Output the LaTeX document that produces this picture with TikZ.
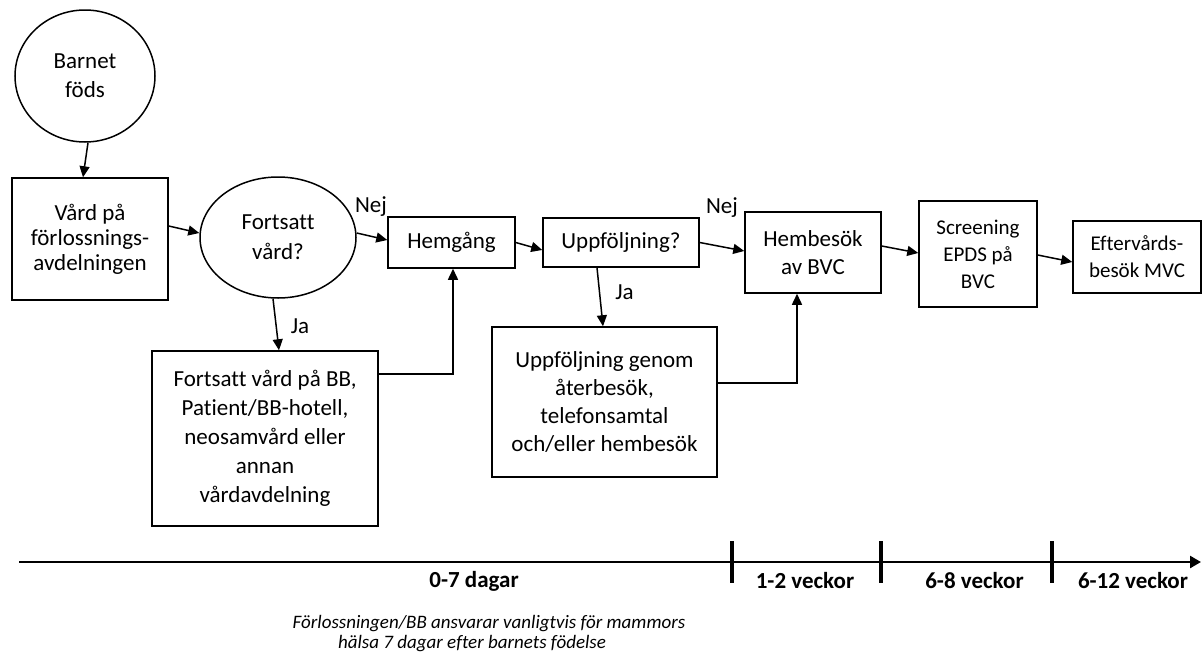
\documentclass[tikz,border=0pt]{standalone}
\usepackage{fontspec}
\setmainfont{Carlito}[Ligatures={NoCommon}]
\usetikzlibrary{shapes.geometric,arrows.meta}
\begin{document}
\begin{tikzpicture}[x=1pt,y=-1pt,
  every node/.style={font=\fontsize{23}{28}\selectfont},
  box/.style={draw,line width=1.5pt,rectangle,inner sep=0pt,align=center},
  oval/.style={draw,line width=1.5pt,ellipse,inner sep=0pt,align=center},
  arr/.style={line width=1.5pt,-{Triangle[length=11pt,width=10pt]}},
  lbl/.style={inner sep=0pt},
  tl/.style={font=\fontsize{23}{26}\selectfont\bfseries,inner sep=0pt,anchor=base},
  note/.style={font=\fontsize{19}{20}\selectfont\itshape,inner sep=0pt,anchor=base}]
\useasboundingbox (0,0) rectangle (1203,659);

\node[oval,minimum width=140pt,minimum height=132pt,font=\fontsize{23}{29}\selectfont] (born) at (85,76) {Barnet\\föds};
\node[box,minimum width=156pt,minimum height=122pt,font=\fontsize{23}{25}\selectfont] (vard) at (90,239) {Vård på\\förlossnings-\\avdelningen};
\node[oval,minimum width=156pt,minimum height=121pt,font=\fontsize{23}{30}\selectfont] (fort) at (278,237.5) {Fortsatt\\vård?};
\node[box,minimum width=127pt,minimum height=51pt] (hem) at (451.5,242.5) {Hemgång};
\node[box,minimum width=156pt,minimum height=49pt] (upp) at (621,242.5) {Uppföljning?};
\node[box,minimum width=136pt,minimum height=81pt] (bvc) at (813,252.5) {Hembesök\\av BVC};
\node[box,minimum width=118pt,minimum height=106pt,font=\fontsize{21}{27}\selectfont] (scr) at (978,254) {Screening\\EPDS på\\BVC};
\node[box,minimum width=128pt,minimum height=72pt,font=\fontsize{21}{27}\selectfont] (eft) at (1137,257) {Eftervårds-\\besök MVC};
\node[box,minimum width=226pt,minimum height=175pt,font=\fontsize{23}{29}\selectfont] (fbb) at (265,438.5) {Fortsatt vård på BB,\\Patient/BB-hotell,\\neosamvård eller\\annan\\vårdavdelning};
\node[box,minimum width=225pt,minimum height=150pt,font=\fontsize{23}{28.3}\selectfont] (ug) at (604.5,402) {Uppföljning genom\\återbesök,\\telefonsamtal\\och/eller hembesök};

\draw[arr] ([xshift=3pt]born.south) -- ([xshift=-7pt]vard.north);
\draw[arr] ([yshift=13pt]vard.east) -- ([yshift=4.5pt]fort.west);
\draw[arr] ([yshift=4.5pt]fort.east) -- ([yshift=2.5pt]hem.west);
\draw[arr] (hem.east) -- ([yshift=-7.5pt]upp.west);
\draw[arr] (upp.east) -- ([yshift=1.5pt]bvc.west);
\draw[arr] ([yshift=6.5pt]bvc.east) -- ([yshift=1pt]scr.west);
\draw[arr] ([yshift=-1pt]scr.east) -- ([yshift=-5pt]eft.west);
\draw[arr] ([xshift=-5pt]fort.south) -- ([xshift=14pt]fbb.north);
\draw[arr] ([xshift=-24pt]upp.south) -- ([xshift=-1.5pt]ug.north);
\draw[arr] ([yshift=64.5pt]fbb.east) -| ([xshift=1.5pt]hem.south);
\draw[arr] ([yshift=19pt]ug.east) -| ([xshift=-16pt]bvc.south);

\node[lbl] (nej1) at (371,207) {Nej};
\node[lbl] (nej2) at (722,208) {Nej};
\node[lbl] (ja1) at (300,326) {Ja};
\node[lbl] (ja2) at (624.5,292) {Ja};

\coordinate (t0) at (19,562);
\coordinate (t1) at (1201,562);
\draw[line width=2.5pt,-{Triangle[length=11pt,width=12pt]}] (t0) -- (t1);
\coordinate (k1a) at (732,541); \coordinate (k1b) at (732,583);
\coordinate (k2a) at (881,541); \coordinate (k2b) at (881,583);
\coordinate (k3a) at (1052,541); \coordinate (k3b) at (1052,583);
\draw[line width=3.5pt] (k1a) -- (k1b);
\draw[line width=3.5pt] (k2a) -- (k2b);
\draw[line width=3.5pt] (k3a) -- (k3b);

\node[tl] (d07) at (474,587) {0-7 dagar};
\node[tl] (w12) at (805,588) {1-2 veckor};
\node[tl] (w68) at (974.5,588) {6-8 veckor};
\node[tl] (w612) at (1133,588) {6-12 veckor};

\node[note] (n1) at (489,628) {Förlossningen/BB ansvarar vanligtvis för mammors};
\node[note] (n2) at (472,648) {hälsa 7 dagar efter barnets födelse};
\end{tikzpicture}
\end{document}
